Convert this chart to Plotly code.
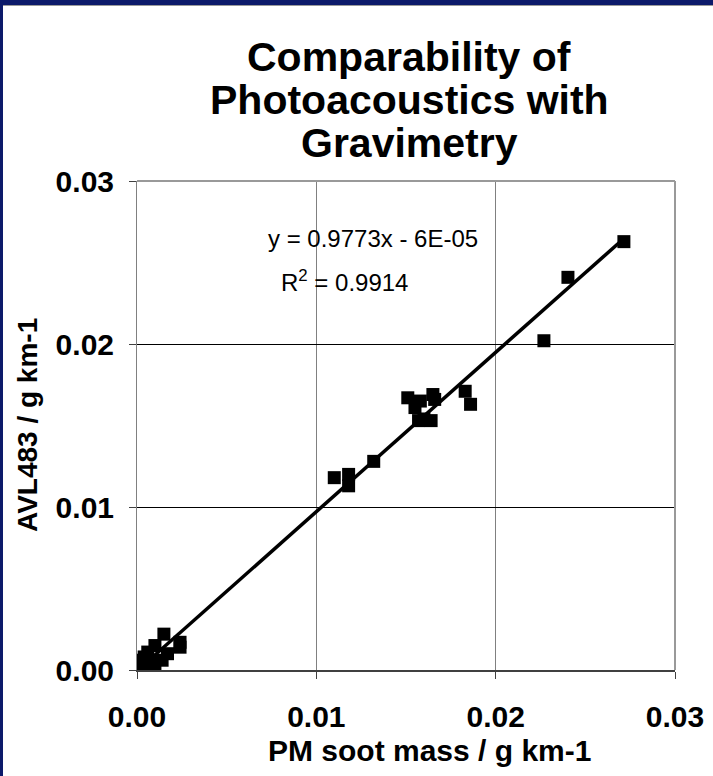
import plotly.graph_objects as go

# --- data ---
pm_soot = [0.02715, 0.02403, 0.02269,
           0.0151, 0.0155, 0.0158, 0.0165, 0.0166, 0.0157, 0.0164, 0.0160,
           0.0183, 0.0186, 0.0132, 0.0110, 0.0118, 0.0118,
           0.0015, 0.0024, 0.0024, 0.0010, 0.0017, 0.0006, 0.0004, 0.0002,
           0.0002, 0.0006, 0.0010, 0.0014, 0.0008]
avl483 = [0.02628, 0.02409, 0.0202,
          0.0167, 0.0161, 0.0165, 0.0169, 0.0166, 0.0153, 0.0153, 0.0154,
          0.0171, 0.0163, 0.0128, 0.0118, 0.0120, 0.0113,
          0.0022, 0.0017, 0.0014, 0.0015, 0.0010, 0.0011, 0.0008, 0.0006,
          0.0004, 0.0002, 0.0003, 0.0006, 0.0005]
slope = 0.9773
intercept = -6e-05
tick_vals = [0.0, 0.01, 0.02, 0.03]
tick_text = ["0.00", "0.01", "0.02", "0.03"]
title_lines = ["Comparability of", "Photoacoustics with", "Gravimetry"]
x_title = "PM soot mass / g km-1"
y_title = "AVL483 / g km-1"
eq_text = "y = 0.9773x - 6E-05"
r2_text = "R<sup>2</sup> = 0.9914"

FONT = "Liberation Sans, Arial, sans-serif"
fit_x = [min(pm_soot), max(pm_soot)]
fit_y = [slope * v + intercept for v in fit_x]

fig = go.Figure()
fig.add_trace(go.Scatter(x=fit_x, y=fit_y, mode="lines",
                         line=dict(color="black", width=3.5),
                         hoverinfo="skip", showlegend=False))
fig.add_trace(go.Scatter(x=pm_soot, y=avl483, mode="markers",
                         marker=dict(symbol="square", size=13, color="black",
                                     line=dict(width=0)),
                         showlegend=False))

W, H = 713, 776
L, R, T, B = 137, 38, 181, 106
pw, ph = W - L - R, H - T - B

def px(xp):
    return (xp - L) / pw

def py(yp):
    return (H - B - yp) / ph

fig.update_layout(
    width=W, height=H,
    margin=dict(l=L, r=R, t=T, b=B, pad=0, autoexpand=False),
    paper_bgcolor="white", plot_bgcolor="white",
    font=dict(family=FONT, color="black"),
    xaxis=dict(range=[0, 0.03], tickvals=tick_vals, ticktext=tick_text,
               automargin=False,
               showgrid=True, gridcolor="#808080", gridwidth=1,
               zeroline=False, showline=True, linecolor="#404040", linewidth=2,
               ticks="outside", ticklen=7, tickcolor="#404040", tickwidth=1,
               ticklabelstandoff=12,
               tickfont=dict(family=FONT, size=30, color="black", weight="bold")),
    yaxis=dict(range=[0, 0.03], tickvals=tick_vals, ticktext=tick_text,
               automargin=False,
               showgrid=True, gridcolor="black", gridwidth=1,
               zeroline=False, showline=True, linecolor="#808080", linewidth=1,
               ticks="outside", ticklen=7, tickcolor="#404040", tickwidth=1,
               ticklabelstandoff=9,
               tickfont=dict(family=FONT, size=30, color="black", weight="bold")),
)

shapes = [
    dict(type="line", xref="paper", yref="paper", x0=0, x1=1, y0=1, y1=1,
         line=dict(color="#999999", width=2)),
    dict(type="line", xref="paper", yref="paper", x0=1, x1=1, y0=0, y1=1,
         line=dict(color="#999999", width=2)),
    dict(type="rect", xref="paper", yref="paper", x0=px(0), x1=px(W),
         y0=py(5), y1=py(0), fillcolor="#0C1A6A", line=dict(width=0), layer="above"),
    dict(type="line", xref="paper", yref="paper", x0=px(3), x1=px(W),
         y0=py(5.5), y1=py(5.5), line=dict(color="#9a9a9a", width=1), layer="above"),
    dict(type="rect", xref="paper", yref="paper", x0=px(0), x1=px(3),
         y0=py(H), y1=py(0), fillcolor="#0C1A6A", line=dict(width=0), layer="above"),
]
fig.update_layout(shapes=shapes)

ann = []
for line, yc in zip(title_lines, [57, 100, 143]):
    ann.append(dict(text="<b>%s</b>" % line, xref="paper", yref="paper",
                    x=px(409), y=py(yc), xanchor="center", yanchor="middle",
                    showarrow=False, font=dict(family=FONT, size=41, color="black")))
ann.append(dict(text="<b>%s</b>" % x_title, xref="paper", yref="paper",
                x=px(429), y=py(750), xanchor="center", yanchor="middle",
                showarrow=False, font=dict(family=FONT, size=30, color="black")))
ann.append(dict(text="<b>%s</b>" % y_title, xref="paper", yref="paper",
                x=px(27), y=py(425), xanchor="center", yanchor="middle", textangle=-90,
                showarrow=False, font=dict(family=FONT, size=28, color="black")))
ann.append(dict(text=eq_text, xref="x", yref="y", x=0.01315, y=0.0265,
                xanchor="center", yanchor="middle", showarrow=False,
                font=dict(family=FONT, size=24, color="black")))
ann.append(dict(text=r2_text, xref="x", yref="y", x=0.01159, y=0.02387,
                xanchor="center", yanchor="middle", showarrow=False,
                font=dict(family=FONT, size=24, color="black")))
fig.update_layout(annotations=ann)

fig.write_html("out.html")
